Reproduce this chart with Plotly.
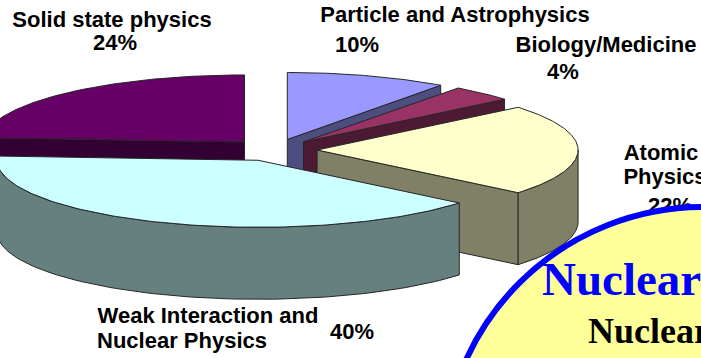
import numpy as np
import plotly.graph_objects as go

# Survey shares, clockwise from twelve o'clock
fields = ["Particle and Astrophysics", "Biology/Medicine", "Atomic Physics",
          "Weak Interaction and Nuclear Physics", "Solid state physics"]
shares = [10, 4, 22, 40, 24]

top_colors = ["#9999ff", "#993366", "#ffffcc", "#ccffff", "#660066"]
side_colors = ["#4d4d80", "#4d1a33", "#808066", "#668080", "#330033"]

# Projection of the tilted, exploded pie onto the page
CX, CY, RX, RY = 274, 150, 261, 67
EXPLODE = 0.165
DEPTH = 72
EDGE = "#262626"
WIDTH, HEIGHT = 701, 358


def rim(apex, angles):
    return apex[0] + RX * np.sin(angles), apex[1] - RY * np.cos(angles)


def polygon(x, y, color):
    return go.Scatter(x=list(x), y=list(y), mode="lines", fill="toself", fillcolor=color,
                      line=dict(color=EDGE, width=1), hoverinfo="skip", showlegend=False)


def cut_face(apex, angle, color):
    ex, ey = rim(apex, np.array([angle]))
    return polygon([apex[0], ex[0], ex[0], apex[0], apex[0]],
                   [apex[1], ey[0], ey[0] + DEPTH, apex[1] + DEPTH, apex[1]], color)


def slice_traces(start, end, top, side):
    mid = (start + end) / 2
    apex = (CX + EXPLODE * RX * np.sin(mid), CY - EXPLODE * RY * np.cos(mid))
    traces = []
    # Cut faces turned towards the viewer
    if 0 < end < np.pi:
        traces.append(cut_face(apex, end, side))
    if np.pi < start < 2 * np.pi:
        traces.append(cut_face(apex, start, side))
    # Outer wall on the near half of the rim
    w0, w1 = max(start, np.pi / 2), min(end, 3 * np.pi / 2)
    if w1 > w0:
        a = np.linspace(w0, w1, 90)
        x, y = rim(apex, a)
        traces.append(polygon(np.r_[x, x[::-1], x[0]], np.r_[y, y[::-1] + DEPTH, y[0]], side))
    # Top surface
    a = np.linspace(start, end, 120)
    x, y = rim(apex, a)
    traces.append(polygon(np.r_[apex[0], x, apex[0]], np.r_[apex[1], y, apex[1]], top))
    return traces


edges = np.r_[0, np.cumsum(shares)] / sum(shares) * 2 * np.pi
fig = go.Figure()
# Painted back to front so nearer slices cover the ones behind them
for i in [4, 0, 1, 2, 3]:
    fig.add_traces(slice_traces(edges[i], edges[i + 1], top_colors[i], side_colors[i]))

# Category labels live in a trace so the callout disc can sit over them
label_text = ["Solid state physics", f"{shares[4]}%",
              "Particle and Astrophysics", f"{shares[0]}%",
              "Biology/Medicine", f"{shares[1]}%",
              "Atomic", "Physics", f"{shares[2]}%",
              "Weak Interaction and", "Nuclear Physics", f"{shares[3]}%"]
label_x = [112, 115, 455, 357, 606, 563, 661, 665, 670, 208, 182, 352]
label_y = [21, 44, 16, 46, 46, 73, 154, 178, 207, 317, 342, 333]
fig.add_trace(go.Scatter(x=label_x, y=label_y, text=label_text, mode="text",
                         textposition="middle center", cliponaxis=False,
                         textfont=dict(family="Liberation Sans", size=22, color="black", weight="bold"),
                         hoverinfo="skip", showlegend=False))

fig.update_layout(
    width=WIDTH, height=HEIGHT, margin=dict(l=0, r=0, t=0, b=0),
    paper_bgcolor="white", plot_bgcolor="white", showlegend=False,
    xaxis=dict(range=[0, WIDTH], visible=False, fixedrange=True),
    yaxis=dict(range=[HEIGHT, 0], visible=False, fixedrange=True),
    shapes=[dict(type="circle", xref="x", yref="y", layer="above",
                 x0=443, x1=963, y0=207, y1=727,
                 fillcolor="#ffff99", line=dict(color="#0000ff", width=6))],
    annotations=[
        dict(text="Nuclear", x=540, y=296, xref="x", yref="y", xanchor="left", yanchor="bottom",
             showarrow=False, yshift=-11,
             font=dict(family="Liberation Serif", size=47, color="#0000ff", weight="bold")),
        dict(text="Nuclear", x=586, y=345, xref="x", yref="y", xanchor="left", yanchor="bottom",
             showarrow=False, yshift=-8,
             font=dict(family="Liberation Serif", size=36, color="black", weight="bold")),
    ],
)

fig.write_html("out.html", config=dict(displayModeBar=False))
